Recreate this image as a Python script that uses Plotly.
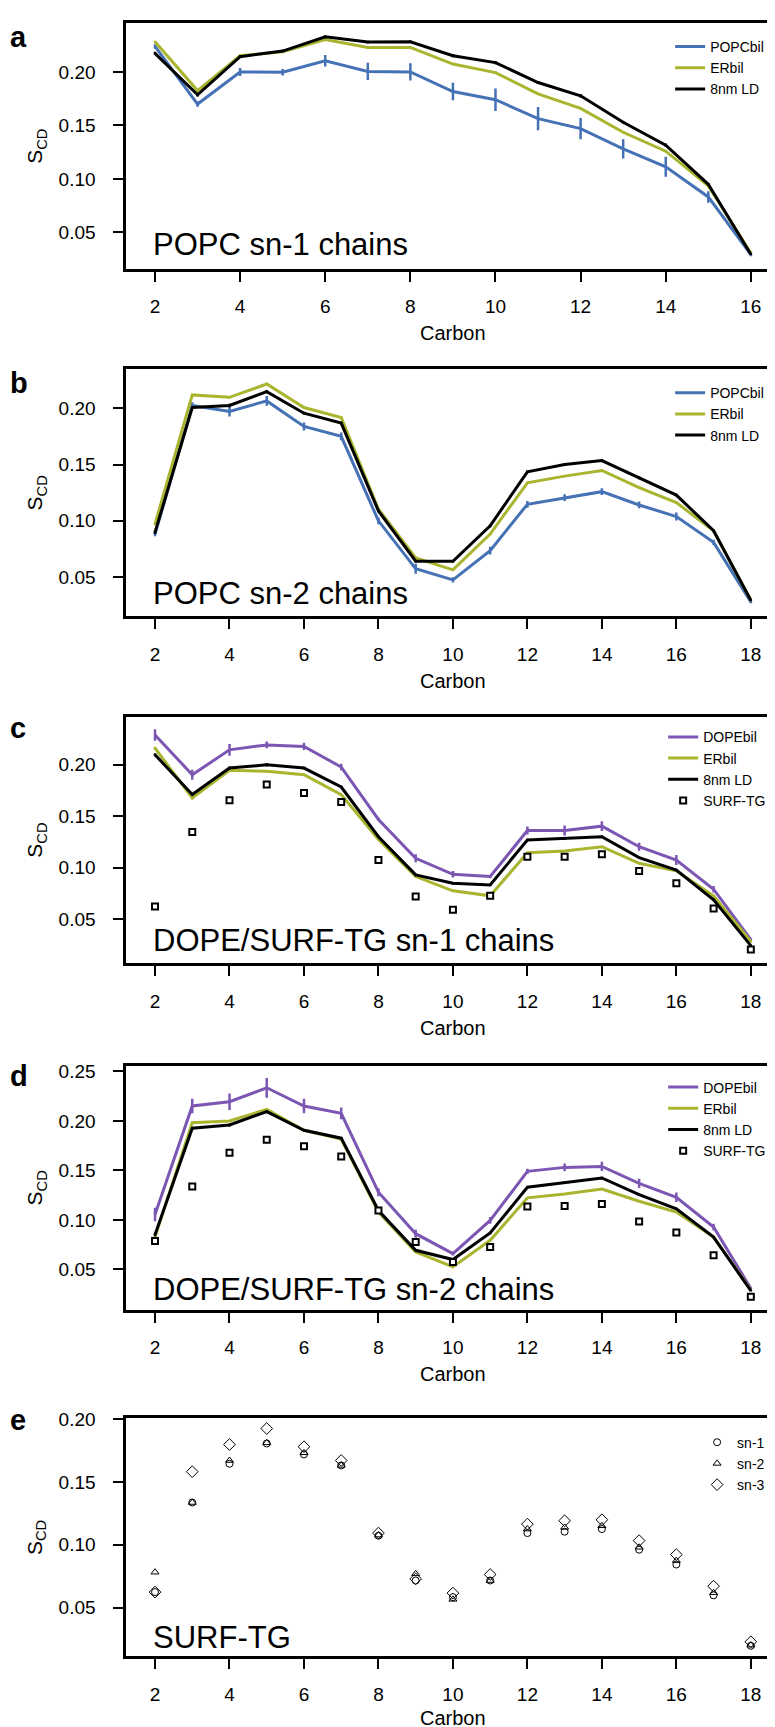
import plotly.graph_objects as go

W, H = 775, 1727
FONT = "Liberation Sans, Arial, Helvetica, sans-serif"

# ---------------- data ----------------
carbon_16 = list(range(2, 17))
carbon_18 = list(range(2, 19))

# (a) POPC sn-1
a_popcbil = [0.224, 0.170, 0.200, 0.1997, 0.2105, 0.2005, 0.200, 0.1817, 0.174, 0.1563, 0.147, 0.128, 0.1113, 0.0831, 0.0292]
a_popcbil_err = [0.002, 0.0025, 0.0037, 0.003, 0.0054, 0.0081, 0.0081, 0.0081, 0.0105, 0.0108, 0.010, 0.009, 0.0093, 0.0054, 0.0015]
a_erbil = [0.2282, 0.1826, 0.2152, 0.2189, 0.2304, 0.2229, 0.2229, 0.2074, 0.1994, 0.1795, 0.1659, 0.1436, 0.1259, 0.0934, 0.0307]
a_erbil_err = [0.001, 0.0015, 0.001, 0.001, 0.001, 0.001, 0.001, 0.001, 0.001, 0.001, 0.001, 0.001, 0.001, 0.001, 0.0008]
a_ld = [0.2174, 0.1786, 0.2143, 0.2195, 0.2329, 0.2279, 0.2282, 0.2152, 0.2087, 0.1901, 0.1777, 0.1529, 0.1315, 0.0949, 0.0295]
a_ld_err = [0.0015, 0.0015, 0.0012, 0.0012, 0.0015, 0.0012, 0.0012, 0.0015, 0.0015, 0.0012, 0.0015, 0.0012, 0.0015, 0.0012, 0.0008]

# (b) POPC sn-2
b_popcbil = [0.0882, 0.2024, 0.1971, 0.2065, 0.1838, 0.175, 0.100, 0.0574, 0.0476, 0.0735, 0.1147, 0.1206, 0.1259, 0.1141, 0.1038, 0.0809, 0.0279]
b_popcbil_err = [0.002, 0.003, 0.0044, 0.0044, 0.0035, 0.0035, 0.003, 0.0044, 0.0024, 0.0035, 0.003, 0.003, 0.003, 0.003, 0.0035, 0.0024, 0.001]
b_erbil = [0.0971, 0.2118, 0.2097, 0.2215, 0.2006, 0.1918, 0.1103, 0.0671, 0.0565, 0.0882, 0.1338, 0.1397, 0.1447, 0.1294, 0.1162, 0.0912, 0.0294]
b_erbil_err = [0.001, 0.001, 0.001, 0.0012, 0.001, 0.001, 0.001, 0.001, 0.001, 0.001, 0.001, 0.001, 0.001, 0.001, 0.001, 0.001, 0.0008]
b_ld = [0.0897, 0.2006, 0.2024, 0.2147, 0.1956, 0.1868, 0.1088, 0.0641, 0.0641, 0.0956, 0.1435, 0.150, 0.1535, 0.1382, 0.1229, 0.0912, 0.0294]
b_ld_err = [0.0015, 0.0012, 0.0015, 0.0015, 0.0012, 0.0012, 0.0012, 0.0012, 0.0012, 0.0012, 0.0012, 0.0012, 0.0012, 0.0012, 0.0012, 0.0012, 0.0008]

# (c) DOPE / SURF-TG sn-1
c_dopebil = [0.229, 0.1903, 0.2145, 0.2193, 0.2178, 0.1978, 0.1468, 0.109, 0.0935, 0.0913, 0.1361, 0.1361, 0.1403, 0.1203, 0.1074, 0.079, 0.030]
c_dopebil_err = [0.0056, 0.0048, 0.0058, 0.0032, 0.0035, 0.0032, 0.0016, 0.0039, 0.0032, 0.0016, 0.0039, 0.0048, 0.0048, 0.0039, 0.0048, 0.0032, 0.001]
c_erbil = [0.2161, 0.1678, 0.1946, 0.1936, 0.1903, 0.171, 0.1274, 0.0913, 0.0774, 0.0726, 0.1145, 0.1161, 0.1203, 0.1042, 0.0968, 0.0726, 0.0281]
c_erbil_err = [0.0015, 0.0015, 0.0012, 0.001, 0.001, 0.001, 0.001, 0.001, 0.001, 0.001, 0.001, 0.001, 0.001, 0.001, 0.001, 0.001, 0.0008]
c_ld = [0.2097, 0.171, 0.1968, 0.200, 0.1968, 0.1784, 0.130, 0.0929, 0.0848, 0.0832, 0.1268, 0.1281, 0.130, 0.1097, 0.0977, 0.0687, 0.0242]
c_ld_err = [0.0015, 0.0012, 0.0015, 0.0015, 0.0012, 0.0012, 0.0012, 0.0012, 0.0012, 0.0012, 0.0012, 0.0012, 0.0012, 0.0012, 0.0012, 0.0012, 0.0008]
c_surftg = [0.0623, 0.1346, 0.1656, 0.1807, 0.1726, 0.1639, 0.1074, 0.072, 0.059, 0.0726, 0.1106, 0.1106, 0.1129, 0.0968, 0.0848, 0.0603, 0.0203]

# (d) DOPE / SURF-TG sn-2
d_dopebil = [0.1055, 0.2151, 0.2194, 0.2335, 0.2151, 0.2077, 0.128, 0.0861, 0.066, 0.0995, 0.1491, 0.1531, 0.1541, 0.137, 0.1229, 0.0928, 0.0308]
d_dopebil_err = [0.0067, 0.0074, 0.0084, 0.010, 0.0074, 0.006, 0.004, 0.004, 0.002, 0.0034, 0.0027, 0.004, 0.0047, 0.0047, 0.0047, 0.0034, 0.001]
d_erbil = [0.0827, 0.1983, 0.200, 0.2117, 0.1906, 0.1816, 0.1079, 0.0677, 0.0526, 0.0794, 0.1223, 0.1263, 0.1313, 0.1189, 0.1079, 0.0827, 0.0291]
d_erbil_err = [0.001, 0.001, 0.001, 0.0012, 0.001, 0.001, 0.001, 0.001, 0.001, 0.001, 0.001, 0.001, 0.001, 0.001, 0.001, 0.001, 0.0008]
d_ld = [0.085, 0.1926, 0.196, 0.2094, 0.1906, 0.1826, 0.1095, 0.0693, 0.060, 0.0868, 0.133, 0.138, 0.1424, 0.1256, 0.1112, 0.0827, 0.0285]
d_ld_err = [0.0015, 0.0012, 0.0015, 0.0015, 0.0012, 0.0012, 0.0012, 0.0012, 0.0012, 0.0012, 0.0012, 0.0012, 0.0012, 0.0012, 0.0012, 0.0012, 0.0008]
d_surftg = [0.0787, 0.1337, 0.1678, 0.1809, 0.1745, 0.1642, 0.1095, 0.0777, 0.0576, 0.0727, 0.1136, 0.1142, 0.1162, 0.0985, 0.0874, 0.0643, 0.0224]

# (e) SURF-TG chains
e_sn1 = [0.0624, 0.1336, 0.1644, 0.1805, 0.1718, 0.1631, 0.1072, 0.0716, 0.0584, 0.0716, 0.1093, 0.1104, 0.1125, 0.0961, 0.0843, 0.0598, 0.0197]
e_sn2 = [0.0782, 0.1336, 0.167, 0.181, 0.1731, 0.1631, 0.1077, 0.0769, 0.0566, 0.0716, 0.1125, 0.1138, 0.1151, 0.098, 0.0874, 0.0619, 0.0202]
e_sn3 = [0.0624, 0.1581, 0.1797, 0.1924, 0.1779, 0.167, 0.1093, 0.0729, 0.0616, 0.0764, 0.1164, 0.1191, 0.1199, 0.1033, 0.0922, 0.0671, 0.0229]

panel_letters = ["a", "b", "c", "d", "e"]
panel_titles = ["POPC sn-1 chains", "POPC sn-2 chains", "DOPE/SURF-TG sn-1 chains",
                "DOPE/SURF-TG sn-2 chains", "SURF-TG"]
y_ticks = [[0.05, 0.10, 0.15, 0.20], [0.05, 0.10, 0.15, 0.20], [0.05, 0.10, 0.15, 0.20],
           [0.05, 0.10, 0.15, 0.20, 0.25], [0.05, 0.10, 0.15, 0.20]]

# ---------------- style ----------------
BLUE = "#4571B5"
GREEN = "#A9B52E"
PURPLE = "#7C56B3"
BLACK = "#000000"

# layout geometry (pixels)
BOX_L, BOX_R = 118.5, 772.5
boxes = [(6, 253), (354, 602), (703.3, 950.7), (1054, 1299.3), (1408.3, 1647.7)]
x_ranges = [[1.327, 16.673]] + [[1.23, 18.77]] * 4
y_ranges = [[0.016, 0.2458], [0.0156, 0.2347], [0.0075, 0.2468], [0.0095, 0.256], [0.0115, 0.2008]]
letter_y = [20, 368, 715, 1065, 1410]
title_y = [229, 580, 928, 1279, 1629]
carbon_y = [318, 667, 1016, 1364, 1710]
legend_pos = [(663, 14), (663, 362), (656, 708), (656, 1060), (690, 1417)]


def fx(p):
    return p / W


def fy(p):
    return 1 - p / H


fig = go.Figure()


def ax_names(i):
    return ("x" if i == 0 else f"x{i+1}", "y" if i == 0 else f"y{i+1}",
            "legend" if i == 0 else f"legend{i+1}")


def add_line(i, x, y, err, color, name):
    xa, ya, lg = ax_names(i)
    fig.add_trace(go.Scatter(
        x=x, y=y, mode="lines", name=name, xaxis=xa, yaxis=ya, legend=lg,
        line=dict(color=color, width=3),
        error_y=dict(type="data", array=err, visible=True, color=color, thickness=2.5, width=0),
    ))


def add_squares(i, x, y, name):
    xa, ya, lg = ax_names(i)
    fig.add_trace(go.Scatter(
        x=x, y=y, mode="markers", name=name, xaxis=xa, yaxis=ya, legend=lg,
        marker=dict(symbol="square", size=6, color="white",
                    line=dict(color=BLACK, width=2)),
    ))


def add_open(i, x, y, symbol, size, name):
    xa, ya, lg = ax_names(i)
    fig.add_trace(go.Scatter(
        x=x, y=y, mode="markers", name=name, xaxis=xa, yaxis=ya, legend=lg,
        marker=dict(symbol=symbol, size=size, color=BLACK, line=dict(color=BLACK, width=1)),
    ))


# panel a
add_line(0, carbon_16, a_popcbil, a_popcbil_err, BLUE, "POPCbil")
add_line(0, carbon_16, a_erbil, a_erbil_err, GREEN, "ERbil")
add_line(0, carbon_16, a_ld, a_ld_err, BLACK, "8nm LD")
# panel b
add_line(1, carbon_18, b_popcbil, b_popcbil_err, BLUE, "POPCbil")
add_line(1, carbon_18, b_erbil, b_erbil_err, GREEN, "ERbil")
add_line(1, carbon_18, b_ld, b_ld_err, BLACK, "8nm LD")
# panel c
add_line(2, carbon_18, c_dopebil, c_dopebil_err, PURPLE, "DOPEbil")
add_line(2, carbon_18, c_erbil, c_erbil_err, GREEN, "ERbil")
add_line(2, carbon_18, c_ld, c_ld_err, BLACK, "8nm LD")
add_squares(2, carbon_18, c_surftg, "SURF-TG")
# panel d
add_line(3, carbon_18, d_dopebil, d_dopebil_err, PURPLE, "DOPEbil")
add_line(3, carbon_18, d_erbil, d_erbil_err, GREEN, "ERbil")
add_line(3, carbon_18, d_ld, d_ld_err, BLACK, "8nm LD")
add_squares(3, carbon_18, d_surftg, "SURF-TG")
# panel e
add_open(4, carbon_18, e_sn1, "circle-open", 7, "sn-1")
add_open(4, carbon_18, e_sn2, "triangle-up-open", 7, "sn-2")
add_open(4, carbon_18, e_sn3, "diamond-open", 9, "sn-3")

layout = dict(
    width=W, height=H, margin=dict(l=0, r=0, t=0, b=0),
    paper_bgcolor="white", plot_bgcolor="white",
    font=dict(family=FONT, color="black"),
    showlegend=True,
)

annotations = []
for i in range(5):
    top, bot = boxes[i]
    xk = "xaxis" if i == 0 else f"xaxis{i+1}"
    yk = "yaxis" if i == 0 else f"yaxis{i+1}"
    xa, ya, lg = ax_names(i)
    layout[xk] = dict(
        domain=[fx(BOX_L), fx(BOX_R)], anchor=ya, range=x_ranges[i],
        tickmode="array", tickvals=list(range(2, int(x_ranges[i][1]) + 1, 2)),
        ticks="outside", ticklen=10, tickwidth=2, tickcolor="black",
        showline=True, linewidth=3, linecolor="black", mirror=True,
        showgrid=False, zeroline=False, ticklabelstandoff=9,
        tickfont=dict(size=19, family=FONT, color="black"),
    )
    layout[yk] = dict(
        domain=[fy(bot), fy(top)], anchor=xa, range=y_ranges[i],
        tickmode="array", tickvals=y_ticks[i], tickformat=".2f",
        ticks="outside", ticklen=10, tickwidth=2, tickcolor="black",
        showline=True, linewidth=3, linecolor="black", mirror=True,
        showgrid=False, zeroline=False, ticklabelstandoff=14,
        tickfont=dict(size=19, family=FONT, color="black"),
    )
    lx, ly = legend_pos[i]
    layout[lg] = dict(
        x=fx(lx), y=fy(ly), xanchor="left", yanchor="top", xref="paper", yref="paper",
        bgcolor="rgba(0,0,0,0)", borderwidth=0, font=dict(size=14, family=FONT, color="black"),
        itemwidth=30, tracegroupgap=0,
    )
    # panel letter
    annotations.append(dict(text=f"<b>{panel_letters[i]}</b>", x=fx(0), y=fy(letter_y[i]),
                            xref="paper", yref="paper", xanchor="left", yanchor="middle",
                            showarrow=False, font=dict(size=29, family=FONT, color="black")))
    # panel title inside plot
    annotations.append(dict(text=panel_titles[i], x=fx(143), y=fy(title_y[i]),
                            xref="paper", yref="paper", xanchor="left", yanchor="middle",
                            showarrow=False, font=dict(size=31, family=FONT, color="black")))
    # x title
    annotations.append(dict(text="Carbon", x=fx((BOX_L + BOX_R) / 2), y=fy(carbon_y[i]),
                            xref="paper", yref="paper", xanchor="center", yanchor="middle",
                            showarrow=False, font=dict(size=20, family=FONT, color="black")))
    # y title
    annotations.append(dict(text="S<sub>CD</sub>", x=fx(28), y=fy((top + bot) / 2),
                            xref="paper", yref="paper", xanchor="center", yanchor="middle",
                            textangle=-90, showarrow=False,
                            font=dict(size=21, family=FONT, color="black")))

layout["annotations"] = annotations
fig.update_layout(**layout)

fig.write_html("out.html")
